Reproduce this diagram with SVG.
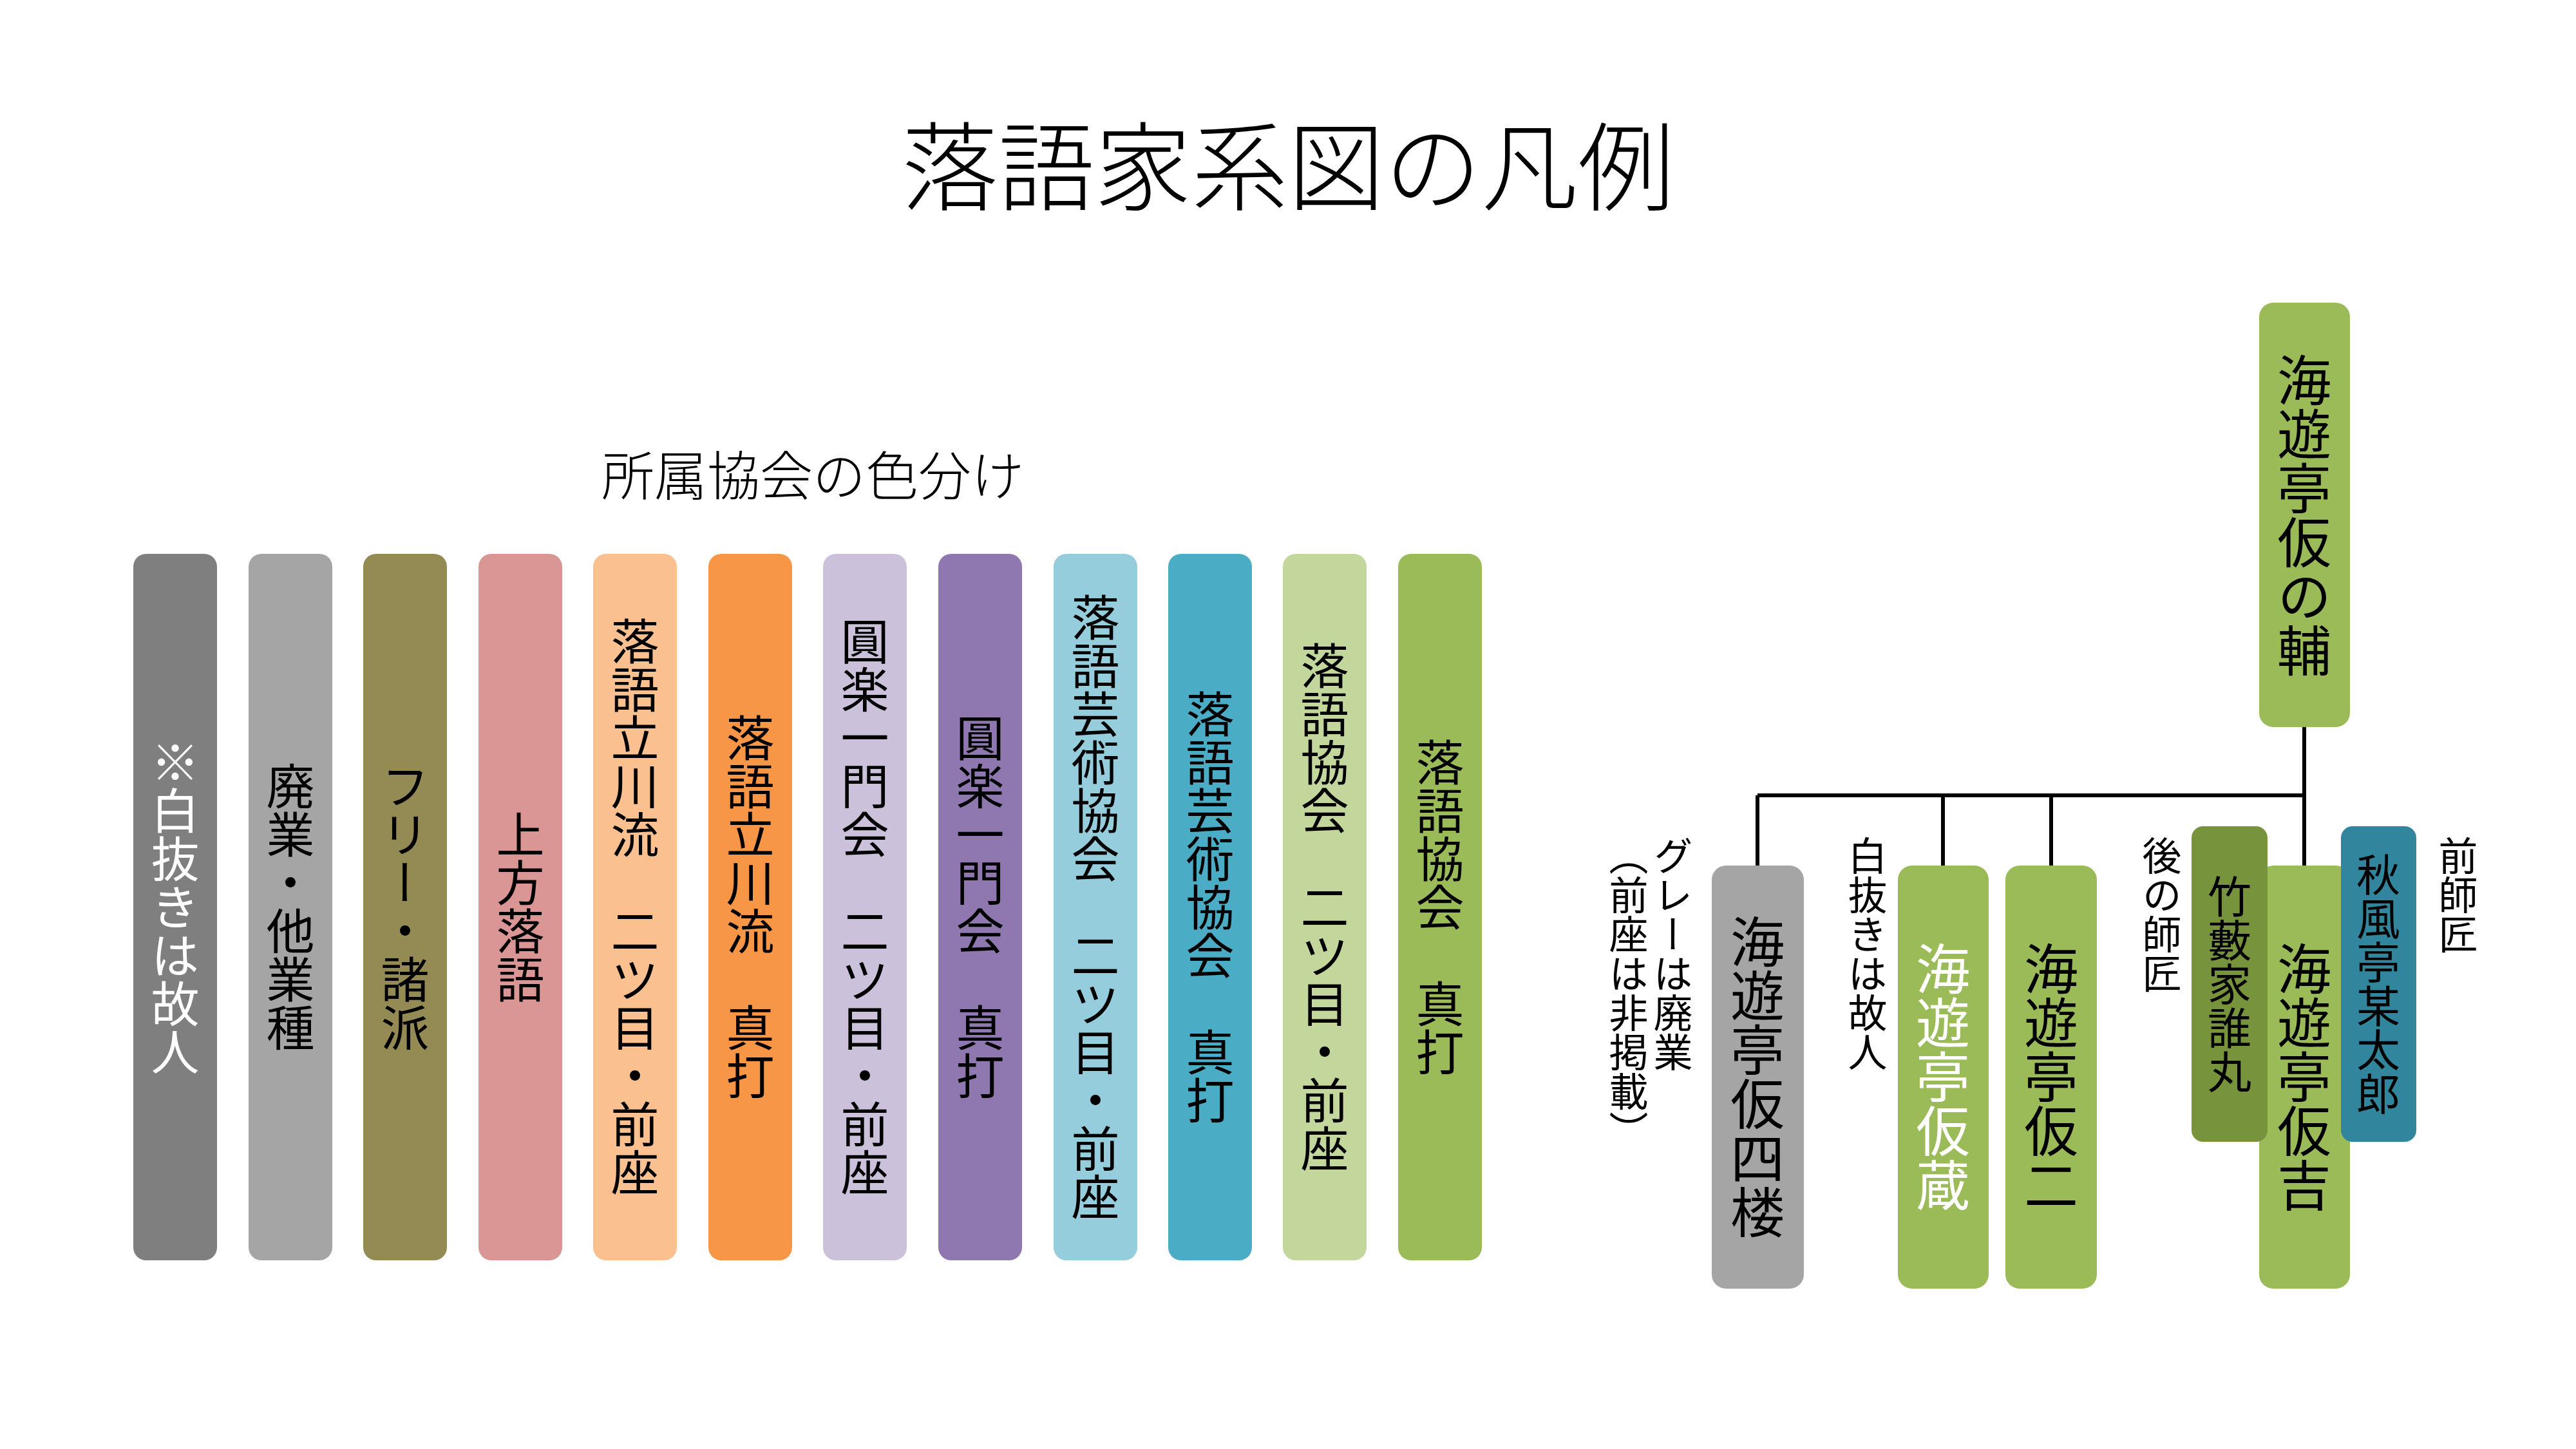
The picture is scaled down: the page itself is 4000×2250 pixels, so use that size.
<svg xmlns="http://www.w3.org/2000/svg" width="4000" height="2250" viewBox="0 0 4000 2250">
<style>
text{font-family:"Noto Sans CJK JP","Noto Sans CJK SC",sans-serif;font-weight:400;fill:#000}
.hd{font-weight:300}
.v{writing-mode:vertical-rl;text-orientation:upright;text-anchor:middle}
.vs{writing-mode:vertical-rl;text-orientation:upright;text-anchor:start;font-size:61px}
.lg{font-size:75px}
.nm{font-size:84px}
.sm{font-size:68px}
.w{fill:#fff}
.conn{stroke:#000;stroke-width:6;fill:none}
</style>
<rect width="4000" height="2250" fill="#fff"/>
<g id="title"><text class="hd" x="2000" y="315" font-size="150" text-anchor="middle">落語家系図の凡例</text></g>
<g id="subtitle"><text class="hd" x="1262" y="769" font-size="82" text-anchor="middle">所属協会の色分け</text></g>

<g id="legend">
<g id="bar1"><rect x="207" y="860" width="130" height="1097" rx="20" fill="#7f7f7f"/><text class="v lg w" x="272" y="1408">※白抜きは故人</text></g>
<g id="bar2"><rect x="386" y="860" width="130" height="1097" rx="20" fill="#a5a5a5"/><text class="v lg" x="451" y="1408">廃業・他業種</text></g>
<g id="bar3"><rect x="564" y="860" width="130" height="1097" rx="20" fill="#948a54"/><text class="v lg" x="629" y="1408">フリー・諸派</text></g>
<g id="bar4"><rect x="743" y="860" width="130" height="1097" rx="20" fill="#d99694"/><text class="v lg" x="808" y="1408">上方落語</text></g>
<g id="bar5"><rect x="921" y="860" width="130" height="1097" rx="20" fill="#fac090"/><text class="v lg" x="986" y="1408">落語立川流　二ツ目・前座</text></g>
<g id="bar6"><rect x="1100" y="860" width="130" height="1097" rx="20" fill="#f79646"/><text class="v lg" x="1165" y="1408">落語立川流　真打</text></g>
<g id="bar7"><rect x="1278" y="860" width="130" height="1097" rx="20" fill="#ccc1da"/><text class="v lg" x="1343" y="1408">圓楽一門会　二ツ目・前座</text></g>
<g id="bar8"><rect x="1457" y="860" width="130" height="1097" rx="20" fill="#8f78af"/><text class="v lg" x="1522" y="1408">圓楽一門会　真打</text></g>
<g id="bar9"><rect x="1636" y="860" width="130" height="1097" rx="20" fill="#95cddd"/><text class="v lg" x="1701" y="1408">落語芸術協会　二ツ目・前座</text></g>
<g id="bar10"><rect x="1814" y="860" width="130" height="1097" rx="20" fill="#4bacc6"/><text class="v lg" x="1879" y="1408">落語芸術協会　真打</text></g>
<g id="bar11"><rect x="1992" y="860" width="130" height="1097" rx="20" fill="#c3d69b"/><text class="v lg" x="2057" y="1408">落語協会　二ツ目・前座</text></g>
<g id="bar12"><rect x="2171" y="860" width="130" height="1097" rx="20" fill="#9bbb59"/><text class="v lg" x="2236" y="1408">落語協会　真打</text></g>
</g>

<g id="connectors">
<path class="conn" d="M3578,1129 V1344 M2729,1235 H3578 M2729,1235 V1344 M3017,1235 V1344 M3185,1235 V1344"/>
</g>

<g id="node-nosuke"><rect x="3508" y="470" width="141" height="659" rx="22" fill="#9bbb59"/><text class="v nm" x="3578" y="800">海遊亭仮の輔</text></g>
<g id="node-shiro"><rect x="2658" y="1344" width="143" height="657" rx="22" fill="#a5a5a5"/><text class="v nm" x="2729" y="1672">海遊亭仮四楼</text></g>
<g id="node-kura"><rect x="2947" y="1344" width="141" height="657" rx="22" fill="#9bbb59"/><text class="v nm w" x="3017" y="1672">海遊亭仮蔵</text></g>
<g id="node-ji"><rect x="3114" y="1344" width="142" height="657" rx="22" fill="#9bbb59"/><text class="v nm" x="3185" y="1672">海遊亭仮二</text></g>
<g id="node-kichi"><rect x="3508" y="1344" width="141" height="657" rx="22" fill="#9bbb59"/><text class="v nm" x="3578" y="1672">海遊亭仮吉</text></g>
<g id="node-takeyabu"><rect x="3403" y="1283" width="118" height="490" rx="18" fill="#77933c"/><text class="v sm" x="3462" y="1528">竹藪家誰丸</text></g>
<g id="node-shufu"><rect x="3635" y="1283" width="117" height="490" rx="18" fill="#31859c"/><text class="v sm" x="3693" y="1528">秋風亭某太郎</text></g>

<g id="notes">
<text class="vs" x="2598" y="1298">グレーは廃業</text>
<text class="vs" x="2529" y="1298">（前座は非掲載）</text>
<text class="vs" x="2900" y="1298">白抜きは故人</text>
<text class="vs" x="3357" y="1298">後の師匠</text>
<text class="vs" x="3817" y="1298">前師匠</text>
</g>
</svg>
